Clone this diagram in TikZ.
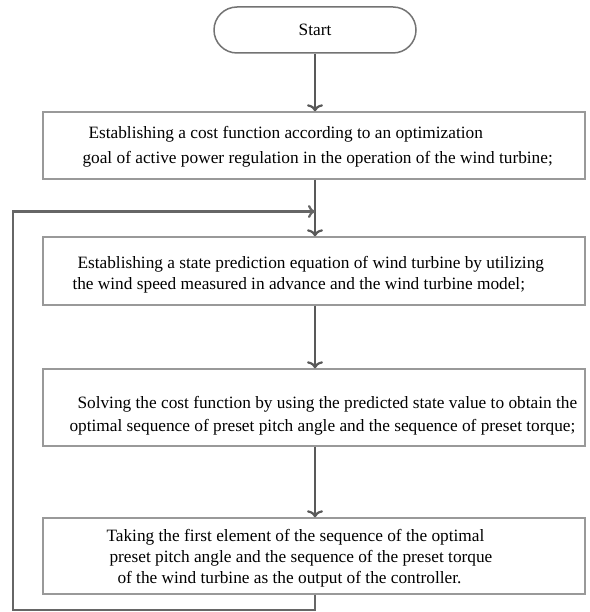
\documentclass[tikz,border=0pt]{standalone}
\usepackage{fontspec}
\setmainfont{Liberation Serif}
\usetikzlibrary{arrows.meta}
\begin{document}
\begin{tikzpicture}[x=1pt,y=-1pt,
  boxnode/.style={draw=black!40, line width=1.4pt, minimum width=542pt, inner sep=0pt},
  txtnode/.style={anchor=west, inner xsep=0pt, inner ysep=0pt, align=left,
     font=\fontsize{17.3}{21}\selectfont},
  startnode/.style={draw=black!55, line width=1.5pt, rounded corners=23pt,
     minimum width=202pt, minimum height=46pt, font=\fontsize{17.3}{21}\selectfont},
  flow/.style={draw=black!65, line width=2.2pt, -{To[length=7pt,width=16pt]}},
  loopline/.style={draw=black!60, line width=2.2pt}
]
\useasboundingbox (0,0) rectangle (589,612);
\fill[white] (0,0) rectangle (589,612);

\node[startnode] (start) at (315,30) {Start};

\node[boxnode, minimum height=67pt] (b1) at (314,145.5) {};
\node[txtnode] (t1) at ([yshift=-1pt]b1.west) {\hspace*{46pt}Establishing a cost function according to an optimization\\[4pt]
\hspace*{40pt}goal of active power regulation in the operation of the wind turbine;};

\node[boxnode, minimum height=68pt] (b2) at (314,271) {};
\node[txtnode] (t2) at ([yshift=-3.5pt]b2.west) {\hspace*{35pt}Establishing a state prediction equation of wind turbine by utilizing\\
\hspace*{30pt}the wind speed measured in advance and the wind turbine model;};

\node[boxnode, minimum height=77pt] (b3) at (314,407.5) {};
\node[txtnode] (t3) at ([yshift=-8pt]b3.west) {\hspace*{35pt}Solving the cost function by using the predicted state value to obtain the\\[2pt]
\hspace*{27pt}optimal sequence of preset pitch angle and the sequence of preset torque;};

\node[boxnode, minimum height=76pt] (b4) at (314,556) {};
\node[txtnode] (t4) at ([yshift=-2pt]b4.west) {\hspace*{64pt}Taking the first element of the sequence of the optimal\\
\hspace*{67pt}preset pitch angle and the sequence of the preset torque\\
\hspace*{75pt}of the wind turbine as the output of the controller.};

\coordinate (loopB) at (315,610);
\coordinate (loopL) at (13,610);
\coordinate (loopT) at (13,211.5);
\coordinate (join) at (315,211.5);

\draw[flow] (start.south) -- (start.south |- b1.north);
\draw[flow] (b1.south -| start.south) -- (b2.north -| start.south);
\draw[flow] (b2.south -| start.south) -- (b3.north -| start.south);
\draw[flow] (b3.south -| start.south) -- (b4.north -| start.south);
\draw[loopline, line join=miter] (b4.south -| start.south) -- (loopB) -- (loopL) -- (loopT) -- (join);
\draw[flow, -{To[length=7pt,width=13pt]}, draw=black!60] (loopT) -- (join);
\end{tikzpicture}
\end{document}
